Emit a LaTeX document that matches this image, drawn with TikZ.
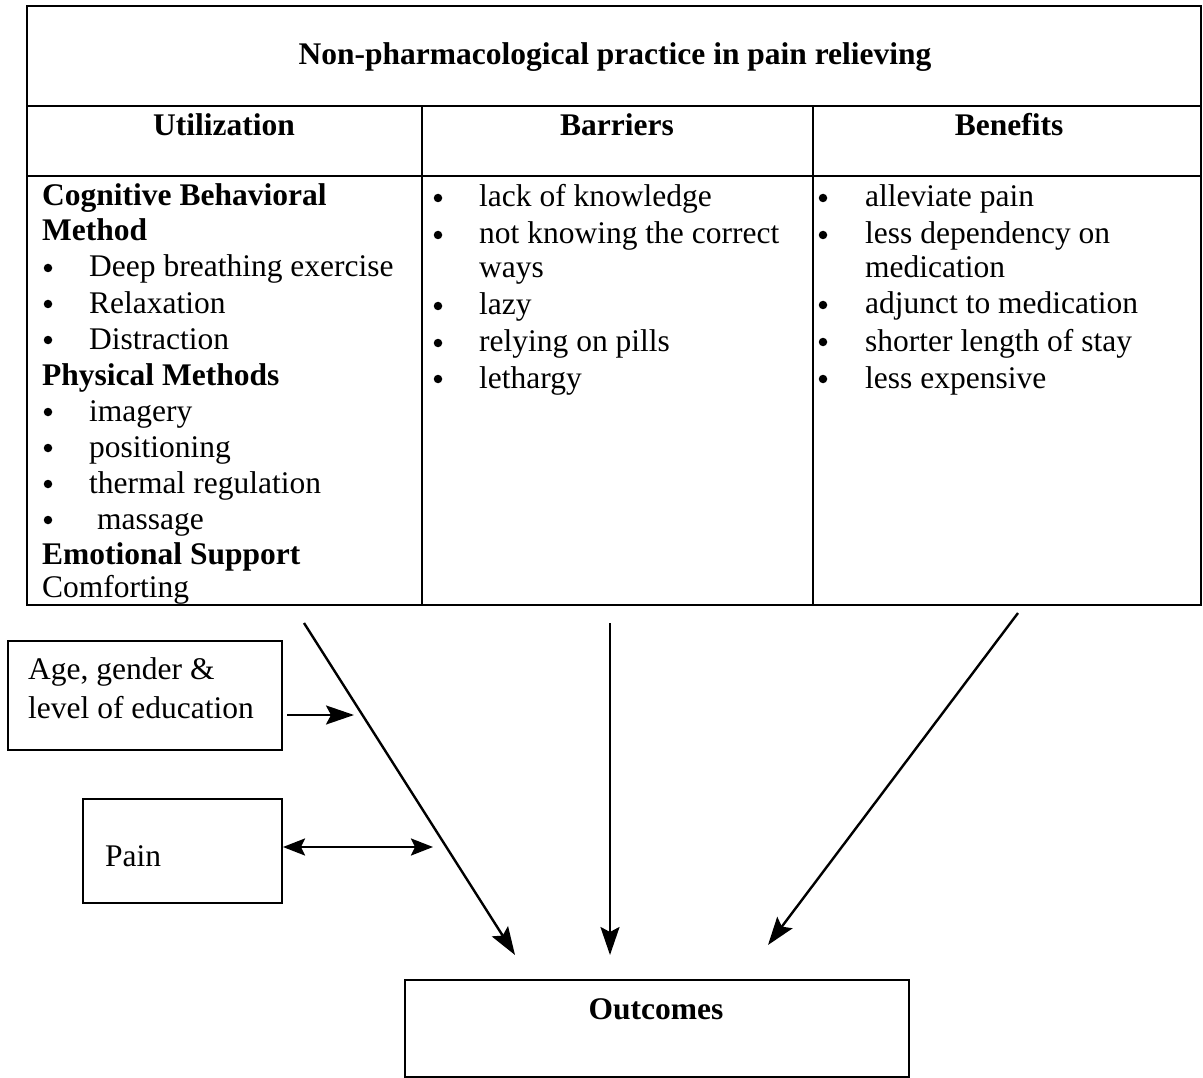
\documentclass[tikz,border=0pt]{standalone}
\usepackage{fontspec}
\setmainfont{Liberation Serif}
\usetikzlibrary{arrows.meta}
\begin{document}
\begin{tikzpicture}[x=1pt,y=-1pt,
  frame/.style={draw=black,line width=2.2pt},
  txt/.style={inner sep=0pt,anchor=base west,font=\fontsize{31.5}{36}\selectfont},
  btxt/.style={txt,font=\fontsize{31.5}{36}\selectfont\bfseries},
  hd/.style={inner sep=0pt,anchor=base,font=\fontsize{31.5}{36}\selectfont\bfseries},
  bul/.style={circle,fill=black,inner sep=0pt,minimum size=8.5pt},
  arr/.style={line width=2.4pt,-{Stealth[length=28pt,width=19pt,inset=5pt]}},
  darr/.style={line width=2.4pt,{Stealth[length=22pt,width=17pt,inset=4pt]}-{Stealth[length=22pt,width=17pt,inset=4pt]}}]
\useasboundingbox (0,0) rectangle (1203,1078);
% table
\draw[frame] (27,6) rectangle (1201,605);
\draw[frame] (27,106) -- (1201,106);
\draw[frame] (27,176) -- (1201,176);
\draw[frame] (422,106) -- (422,605);
\draw[frame] (813,106) -- (813,605);
\node[hd] (title) at (615,65) {Non-pharmacological practice in pain relieving};
\node[hd] (h1) at (224,136) {Utilization};
\node[hd] (h2) at (617,136) {Barriers};
\node[hd] (h3) at (1009,136) {Benefits};
% utilization column
\node[btxt] (u1) at (42,206) {Cognitive Behavioral};
\node[btxt] (u2) at (42,241) {Method};
\node[bul] (ub3) at (48,268) {};
\node[txt] (u3) at (89,277) {Deep breathing exercise};
\node[bul] (ub4) at (48,304) {};
\node[txt] (u4) at (89,313) {Relaxation};
\node[bul] (ub5) at (48,340) {};
\node[txt] (u5) at (89,349) {Distraction};
\node[btxt] (u6) at (42,385) {Physical Methods};
\node[bul] (ub7) at (48,412) {};
\node[txt] (u7) at (89,421) {imagery};
\node[bul] (ub8) at (48,448) {};
\node[txt] (u8) at (89,457) {positioning};
\node[bul] (ub9) at (48,484) {};
\node[txt] (u9) at (89,493) {thermal regulation};
\node[bul] (ub10) at (48,520) {};
\node[txt] (u10) at (97,529) {massage};
\node[btxt] (u11) at (42,564) {Emotional Support};
\node[txt] (u12) at (42,597) {Comforting};
% barriers column
\node[bul] (bb1) at (438,198) {};
\node[txt] (b1) at (479,207) {lack of knowledge};
\node[bul] (bb2) at (438,235) {};
\node[txt] (b2) at (479,244) {not knowing the correct};
\node[txt] (b2b) at (479,278) {ways};
\node[bul] (bb3) at (438,306) {};
\node[txt] (b3) at (479,315) {lazy};
\node[bul] (bb4) at (438,343) {};
\node[txt] (b4) at (479,352) {relying on pills};
\node[bul] (bb5) at (438,379) {};
\node[txt] (b5) at (479,388) {lethargy};
% benefits column
\node[bul] (eb1) at (823,198) {};
\node[txt] (e1) at (865,207) {alleviate pain};
\node[bul] (eb2) at (823,235) {};
\node[txt] (e2) at (865,244) {less dependency on};
\node[txt] (e2b) at (865,278) {medication};
\node[bul] (eb3) at (823,305) {};
\node[txt] (e3) at (865,314) {adjunct to medication};
\node[bul] (eb4) at (823,342) {};
\node[txt] (e4) at (865,351) {shorter length of stay};
\node[bul] (eb5) at (823,379) {};
\node[txt] (e5) at (865,388) {less expensive};
% side boxes
\draw[frame] (8,641) rectangle (282,750);
\node[txt] (age1) at (28,679) {Age, gender \&};
\node[txt] (age2) at (28,718) {level of education};
\draw[frame] (83,799) rectangle (282,903);
\node[txt] (pain) at (105,866) {Pain};
\coordinate (ageR) at (287,715);
\coordinate (ageT) at (354,715);
\draw[arr] (ageR) -- (ageT);
\coordinate (painR) at (283,847);
\coordinate (painT) at (433,847);
\draw[darr] (painR) -- (painT);
% outcomes
\draw[frame] (405,980) rectangle (909,1077);
\node[hd] (out) at (656,1019) {Outcomes};
% main arrows
\coordinate (s1) at (304,623);
\coordinate (t1) at (515,955);
\coordinate (s2) at (610,623);
\coordinate (t2) at (610,955);
\coordinate (s3) at (1018,613);
\coordinate (t3) at (768,945);
\draw[arr] (s1) -- (t1);
\draw[arr] (s2) -- (t2);
\draw[arr] (s3) -- (t3);
\end{tikzpicture}
\end{document}
